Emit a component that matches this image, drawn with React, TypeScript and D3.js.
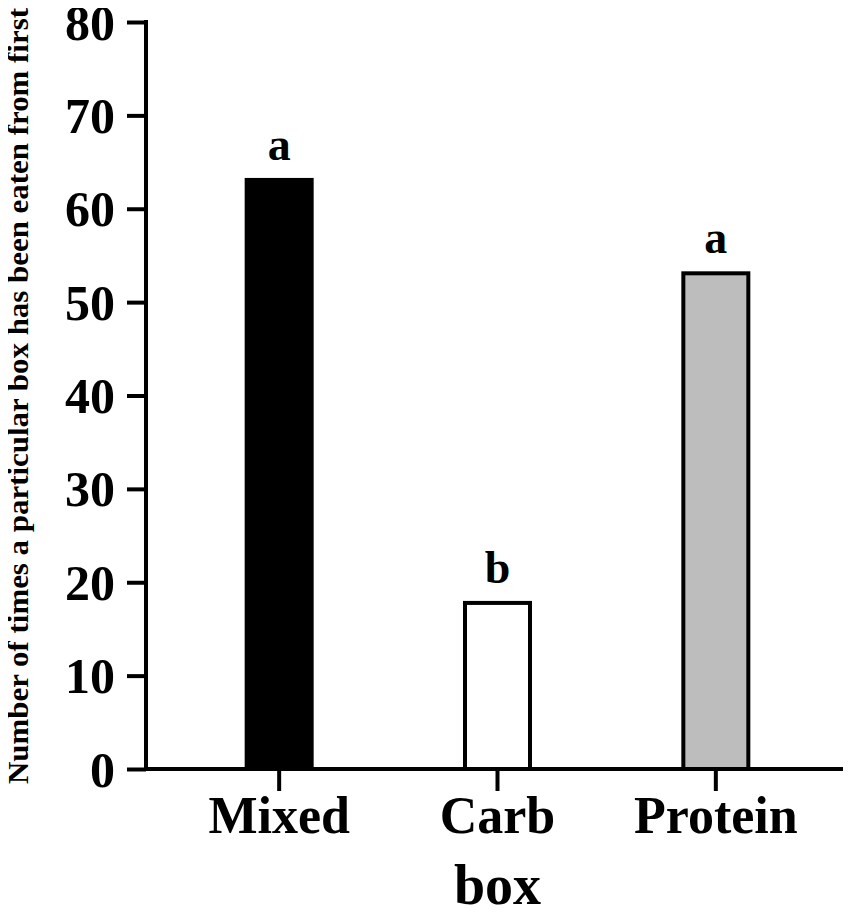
import React, { useEffect, useRef } from 'react';
import * as d3 from 'd3';

const categories = ['Mixed', 'Carb', 'Protein'];
const values = [63.3, 18, 53.3];
const letters = ['a', 'b', 'a'];
const fills = ['#000000', '#ffffff', '#bdbdbd'];
const yTicks = [0, 10, 20, 30, 40, 50, 60, 70, 80];

const W = 851;
const H = 917;
const FONT = '"Liberation Serif", "Times New Roman", serif';

const App: React.FC = () => {
  const svgRef = useRef<SVGSVGElement>(null);

  useEffect(() => {
    if (!svgRef.current) return;
    const svg = d3.select(svgRef.current);
    svg.selectAll('*').remove();

    const x0 = 146;
    const x1 = 846;

    const y = d3.scaleLinear().domain([0, 80]).range([769, 22]);

    const x = d3.scaleBand<string>()
      .domain(categories)
      .range([170, 825])
      .paddingInner(0.684)
      .paddingOuter(0.342);

    const data = categories.map((c, i) => ({ c, v: values[i], l: letters[i], f: fills[i] }));

    // bars
    svg.append('g')
      .selectAll('rect')
      .data(data)
      .join('rect')
      .attr('x', d => x(d.c)! + 2)
      .attr('y', d => y(d.v) + 2)
      .attr('width', x.bandwidth() - 4)
      .attr('height', d => y(0) - y(d.v) - 2)
      .attr('fill', d => d.f)
      .attr('stroke', '#000')
      .attr('stroke-width', 4);

    // significance letters
    svg.append('g')
      .attr('font-family', FONT)
      .attr('font-weight', 'bold')
      .attr('font-size', 46)
      .attr('text-anchor', 'middle')
      .selectAll('text')
      .data(data)
      .join('text')
      .attr('x', d => x(d.c)! + x.bandwidth() / 2)
      .attr('y', d => y(d.v) - 18)
      .text(d => d.l);

    // y axis
    const yAxis = svg.append('g')
      .attr('transform', `translate(${x0},0)`)
      .call(d3.axisLeft(y).tickValues(yTicks).tickSize(19).tickPadding(12).tickSizeOuter(0))
      .call(g => g.select('.domain').attr('stroke-width', 4).attr('d', `M0,${y(0) + 2}V${y(80) - 2}`));
    yAxis.selectAll('.tick line').attr('stroke-width', 4);
    yAxis.selectAll('.tick text')
      .attr('font-family', FONT)
      .attr('font-weight', 'bold')
      .attr('font-size', 50)
      .attr('fill', '#000')
      .attr('dy', '0.34em');

    // x axis
    const xAxis = svg.append('g')
      .attr('transform', `translate(0,${y(0)})`)
      .call(d3.axisBottom(x).tickSize(22).tickSizeOuter(0))
      .call(g => g.select('.domain').attr('stroke-width', 4).attr('d', `M${x0 - 2},0H${x1}`));
    xAxis.selectAll('.tick line').attr('stroke-width', 4);
    xAxis.selectAll('.tick text')
      .attr('font-family', FONT)
      .attr('font-weight', 'bold')
      .attr('font-size', 52)
      .attr('fill', '#000')
      .attr('y', 833 - y(0))
      .attr('dy', 0);

    // x title
    svg.append('text')
      .attr('x', x(categories[1])! + x.bandwidth() / 2)
      .attr('y', 904)
      .attr('text-anchor', 'middle')
      .attr('font-family', FONT)
      .attr('font-weight', 'bold')
      .attr('font-size', 56)
      .text('box');

    // y title
    svg.append('text')
      .attr('transform', `translate(28,${(785 + 7) / 2}) rotate(-90)`)
      .attr('text-anchor', 'middle')
      .attr('font-family', FONT)
      .attr('font-weight', 'bold')
      .attr('font-size', 30)
      .attr('textLength', 776)
      .attr('lengthAdjust', 'spacingAndGlyphs')
      .text('Number of times a particular box has been eaten from first');
  }, []);

  return (
    <div style={{ margin: -8 }}>
      <svg ref={svgRef} width={W} height={H} style={{ display: 'block', background: '#fff' }} />
    </div>
  );
};

export default App;
